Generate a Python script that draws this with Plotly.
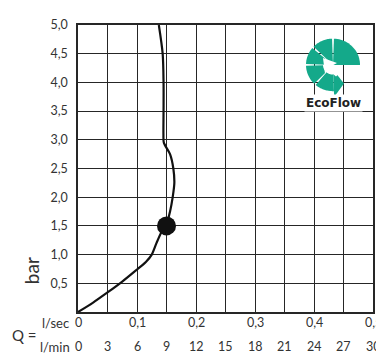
import math
import plotly.graph_objects as go

# ---- data ----
q_lsec = [0, 0.025, 0.05, 0.075, 0.1, 0.115, 0.125, 0.133, 0.141, 0.149,
          0.156, 0.1605, 0.1633, 0.1616, 0.156, 0.1455, 0.1448, 0.145, 0.145, 0.1435, 0.137]
p_bar = [0, 0.16, 0.34, 0.53, 0.74, 0.87, 1.0, 1.2, 1.38, 1.5,
         1.75, 2.0, 2.25, 2.5, 2.75, 2.95, 3.1, 3.5, 4.0, 4.5, 5.0]
duty_q = [0.15]
duty_p = [1.5]

x_ticks = [0, 0.05, 0.1, 0.15, 0.2, 0.25, 0.3, 0.35, 0.4, 0.45, 0.5]
lsec_labels = ["0", "", "0,1", "", "0,2", "", "0,3", "", "0,4", "", "0,5"]
lmin_labels = ["0", "3", "6", "9", "12", "15", "18", "21", "24", "27", "30"]
y_ticks = [0, 0.5, 1.0, 1.5, 2.0, 2.5, 3.0, 3.5, 4.0, 4.5, 5.0]
y_labels = ["", "0,5", "1,0", "1,5", "2,0", "2,5", "3,0", "3,5", "4,0", "4,5", "5,0"]

FONT = "Lato"
TXT = "#333333"
GRID = "#262626"
TEAL = "#14a98a"

# the page body has an 8px margin; the figure is sized to fill the window
OFF = 8
FIG_W, FIG_H = 384 - OFF, 354 - OFF
# plot area in reference (window) pixels
L, T, W, H = 78, 17, 295, 295


def px2paper(px, py):
    return ((px - L) / W, (T + H - py) / H)


fig = go.Figure()
fig.add_trace(go.Scatter(x=q_lsec, y=p_bar, mode="lines",
                         line=dict(color="#111111", width=2.2, shape="spline", smoothing=0.8),
                         hoverinfo="skip", showlegend=False))
fig.add_trace(go.Scatter(x=duty_q, y=duty_p, mode="markers",
                         marker=dict(color="#111111", size=19),
                         hoverinfo="skip", showlegend=False))

fig.update_layout(
    width=FIG_W, height=FIG_H,
    margin=dict(l=L - OFF, r=384 - L - W, t=T - OFF, b=354 - T - H),
    paper_bgcolor="white", plot_bgcolor="white",
    font=dict(family=FONT, color=TXT, size=12.5),
    xaxis=dict(range=[0, 0.5], tickvals=x_ticks, ticktext=[""] * len(x_ticks),
               showgrid=True, gridcolor=GRID, gridwidth=1.4, zeroline=False,
               showline=True, linecolor=GRID, linewidth=1.5, mirror=True,
               ticks="", fixedrange=True),
    yaxis=dict(range=[0, 5], tickvals=y_ticks, ticktext=y_labels,
               showgrid=True, gridcolor=GRID, gridwidth=1.4, zeroline=False,
               showline=True, linecolor=GRID, linewidth=1.5, mirror=True,
               ticks="outside", ticklen=6, tickcolor="rgba(0,0,0,0)",
               tickfont=dict(family=FONT, size=12.5, color=TXT), fixedrange=True),
)

ann = []
y1 = px2paper(0, 323)[1]
y2 = px2paper(0, 347.5)[1]
for xv, a, b in zip(x_ticks, lsec_labels, lmin_labels):
    if a:
        ann.append(dict(x=xv, y=y1, xref="x", yref="paper", text=a, showarrow=False,
                        xanchor="center", yanchor="middle", font=dict(size=12.5, color=TXT)))
    ann.append(dict(x=xv, y=y2, xref="x", yref="paper", text=b, showarrow=False,
                    xanchor="center", yanchor="middle", font=dict(size=12.5, color=TXT)))

ann.append(dict(x=px2paper(55, 0)[0], y=y1, xref="paper", yref="paper", text="l/sec",
                showarrow=False, xanchor="center", yanchor="middle", font=dict(size=13, color=TXT)))
ann.append(dict(x=px2paper(55, 0)[0], y=y2, xref="paper", yref="paper", text="l/min",
                showarrow=False, xanchor="center", yanchor="middle", font=dict(size=13, color=TXT)))
qx, qy = px2paper(24, 336)
ann.append(dict(x=qx, y=qy, xref="paper", yref="paper", text="Q =",
                showarrow=False, xanchor="center", yanchor="middle", font=dict(size=15, color=TXT)))
bx, by = px2paper(31, 270)
ann.append(dict(x=bx, y=by, xref="paper", yref="paper", text="bar", textangle=-90,
                showarrow=False, xanchor="center", yanchor="middle", font=dict(size=19, color=TXT)))
ex, ey = px2paper(333, 97.5)
ann.append(dict(x=ex, y=ey, xref="paper", yref="paper", text="<b>EcoFlow</b>",
                showarrow=False, xanchor="center", yanchor="middle", bgcolor="white",
                borderpad=1, font=dict(family="DejaVu Sans", size=12, color="#222222")))
fig.update_layout(annotations=ann)

# ---- logo ----
CX, CY, R = 333, 58, 27


def pt(ang, r):
    a = math.radians(ang)
    return px2paper(CX + r * math.cos(a), CY - r * math.sin(a))


def wedge(a0, a1, r_out, r_in=0.0, n=24):
    pts = [pt(a0 + (a1 - a0) * i / n, r_out) for i in range(n + 1)]
    if r_in > 0:
        pts += [pt(a1 - (a1 - a0) * i / n, r_in) for i in range(n + 1)]
    else:
        pts.append(pt(0, 0))
    return "M " + " L ".join(f"{x:.5f},{y:.5f}" for x, y in pts) + " Z"


def poly(points):
    return "M " + " L ".join(f"{x:.5f},{y:.5f}" for x, y in points) + " Z"


shapes = []
for a0, a1, ri in [(0, 88, 0), (92, 136, 0), (140, 178, 0), (182, 226, 10), (230, 272, 10)]:
    shapes.append(dict(type="path", xref="paper", yref="paper", path=wedge(a0, a1, R, ri),
                       fillcolor=TEAL, line=dict(width=0), layer="above"))
# arrow head at the end of the ring
shapes.append(dict(type="path", xref="paper", yref="paper",
                   path=poly([pt(272, 5), pt(272, 33), pt(300, 22)]),
                   fillcolor=TEAL, line=dict(width=0), layer="above"))
# white arrow in the centre
shapes.append(dict(type="path", xref="paper", yref="paper",
                   path=poly([px2paper(323, 51), px2paper(337, 56), px2paper(332, 59),
                              px2paper(340, 66), px2paper(336, 70), px2paper(328, 63),
                              px2paper(325, 67)]),
                   fillcolor="white", line=dict(width=0), layer="above"))
fig.update_layout(shapes=shapes)

fig.write_html("out.html")
